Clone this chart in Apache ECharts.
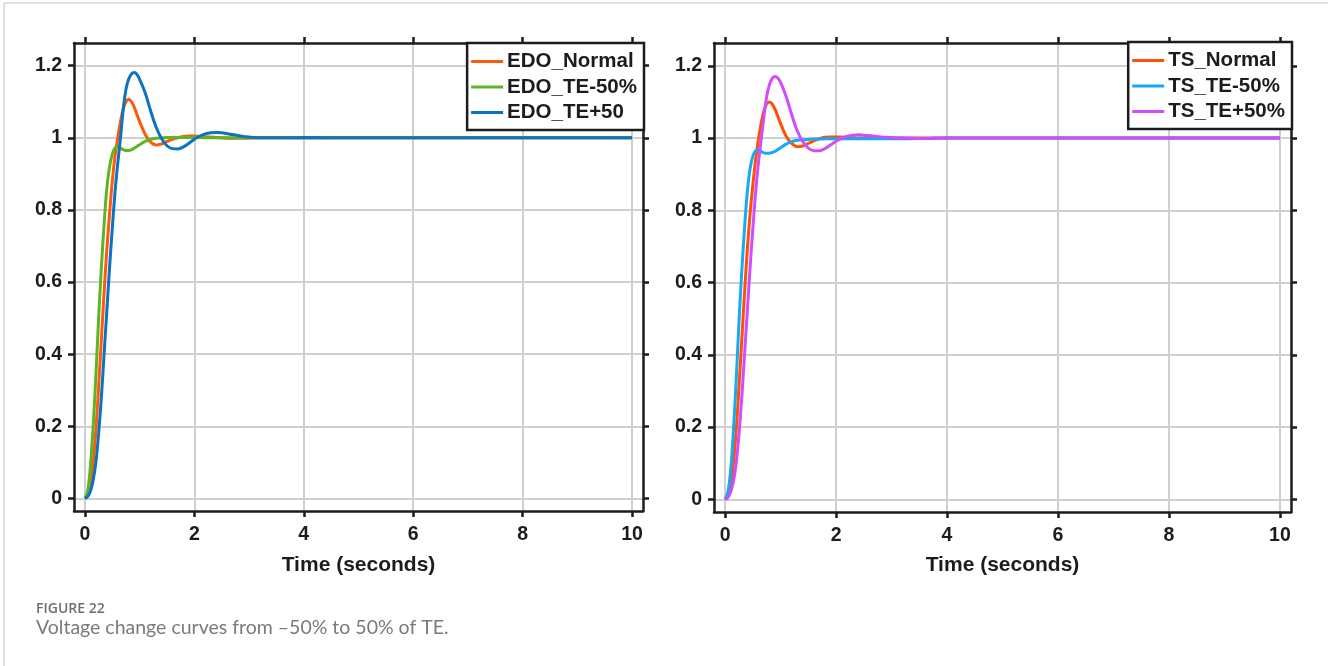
<!DOCTYPE html>
<html>
<head>
<meta charset="utf-8">
<script src="https://cdn.jsdelivr.net/npm/echarts@6/dist/echarts.min.js"></script>
<style>
html,body{margin:0;padding:0;background:#fff;}
#chart{width:1328px;height:666px;}
</style>
</head>
<body>
<div id="chart"></div>
<script>
// ---- data ----
const time = [0, 0.05, 0.1, 0.15, 0.2, 0.25, 0.3, 0.35, 0.4, 0.45, 0.5, 0.55, 0.6, 0.65, 0.7, 0.75, 0.8, 0.85, 0.9, 0.95, 1.0, 1.1, 1.2, 1.3, 1.4, 1.5, 1.6, 1.7, 1.8, 1.9, 2.0, 2.1, 2.2, 2.3, 2.4, 2.5, 2.7, 2.9, 3.2, 3.6, 4.0, 5, 6, 7, 8, 9, 10];

const edoNormal = [0, 0.01, 0.04, 0.10, 0.19, 0.31, 0.44, 0.57, 0.69, 0.79, 0.88, 0.95, 1.00, 1.045, 1.08, 1.10, 1.107, 1.10, 1.085, 1.065, 1.045, 1.01, 0.988, 0.98, 0.983, 0.99, 0.996, 1.0, 1.004, 1.005, 1.005, 1.004, 1.003, 1.002, 1.001, 1.0, 0.999, 0.999, 1.0, 1.0, 1.0, 1.0, 1.0, 1.0, 1.0, 1.0, 1.0];
const edoTEminus = [0, 0.02, 0.09, 0.20, 0.34, 0.50, 0.64, 0.76, 0.86, 0.92, 0.955, 0.972, 0.976, 0.972, 0.967, 0.965, 0.965, 0.967, 0.971, 0.976, 0.981, 0.99, 0.996, 0.999, 1.0, 1.001, 1.001, 1.001, 1.001, 1.001, 1.001, 1.001, 1.0, 1.0, 1.0, 1.0, 1.0, 1.0, 1.0, 1.0, 1.0, 1.0, 1.0, 1.0, 1.0, 1.0, 1.0];
const edoTEplus = [0, 0.005, 0.02, 0.05, 0.10, 0.18, 0.28, 0.40, 0.52, 0.64, 0.75, 0.85, 0.93, 1.0, 1.08, 1.135, 1.163, 1.177, 1.181, 1.176, 1.162, 1.125, 1.075, 1.03, 0.998, 0.978, 0.97, 0.969, 0.975, 0.985, 0.996, 1.005, 1.011, 1.014, 1.015, 1.014, 1.009, 1.004, 1.0, 1.0, 1.001, 1.0, 1.0, 1.0, 1.0, 1.0, 1.0];

const tsNormal = [0, 0.01, 0.04, 0.10, 0.19, 0.31, 0.44, 0.57, 0.69, 0.79, 0.87, 0.94, 0.995, 1.04, 1.075, 1.095, 1.10, 1.094, 1.08, 1.06, 1.04, 1.005, 0.985, 0.976, 0.978, 0.985, 0.992, 0.998, 1.002, 1.003, 1.003, 1.003, 1.002, 1.001, 1.0, 1.0, 1.0, 1.0, 1.0, 1.0, 1.0, 1.0, 1.0, 1.0, 1.0, 1.0, 1.0];
const tsTEminus = [0, 0.02, 0.08, 0.19, 0.33, 0.49, 0.63, 0.75, 0.85, 0.915, 0.95, 0.965, 0.967, 0.963, 0.959, 0.958, 0.958, 0.96, 0.963, 0.968, 0.973, 0.983, 0.99, 0.994, 0.995, 0.996, 0.997, 0.997, 0.998, 0.998, 0.998, 0.998, 0.998, 0.998, 0.998, 0.998, 0.998, 0.998, 0.998, 0.999, 1.0, 1.0, 1.0, 1.0, 1.0, 1.0, 1.0];
const tsTEplus = [0, 0.005, 0.02, 0.05, 0.10, 0.18, 0.28, 0.40, 0.52, 0.64, 0.75, 0.85, 0.93, 0.995, 1.06, 1.115, 1.148, 1.165, 1.17, 1.166, 1.154, 1.115, 1.065, 1.02, 0.99, 0.972, 0.965, 0.965, 0.971, 0.981, 0.991, 0.999, 1.005, 1.008, 1.009, 1.008, 1.005, 1.002, 1.0, 0.999, 1.0, 1.0, 1.0, 1.0, 1.0, 1.0, 1.0];

const xTicks = [0, 2, 4, 6, 8, 10];
const yTicks = [0, 0.2, 0.4, 0.6, 0.8, 1, 1.2];
const namesLeft = ['EDO_Normal', 'EDO_TE-50%', 'EDO_TE+50'];
const namesRight = ['TS_Normal', 'TS_TE-50%', 'TS_TE+50%'];
const xName = 'Time (seconds)';
const figLabel = 'FIGURE 22';
const figCaption = 'Voltage change curves from \u201350% to 50% of TE.';

// ---- styling ----
const FONT = '"Liberation Sans", Arial, sans-serif';
const INK = '#1c1c1c';
const colorsLeft = ['#ff5a0a', '#5cb522', '#0b72c4'];
const colorsRight = ['#ff5005', '#17a9f5', '#cf4cff'];

function pairs(xs, ys) { return xs.map((x, i) => [x, ys[i]]); }

function xAxes(gridIndex, gap) {
  const common = {
    type: 'value', gridIndex, min: -0.2, max: 10.2,
    axisLine: { show: true, onZero: false, lineStyle: { color: INK, width: 2.5 } },
    axisTick: { show: true, inside: false, length: 6, customValues: xTicks, lineStyle: { color: INK, width: 2.5 } },
  };
  return [
    Object.assign({}, common, {
      position: 'bottom',
      name: xName, nameLocation: 'middle', nameGap: gap,
      nameTextStyle: { color: INK, fontFamily: FONT, fontWeight: 'bold', fontSize: 21 },
      axisLabel: { show: true, customValues: xTicks, margin: 14, color: INK, fontFamily: FONT, fontWeight: 'bold', fontSize: 19.5 },
      splitLine: { show: true, lineStyle: { color: '#cfcfcf', width: 2 } }
    }),
    Object.assign({}, common, {
      position: 'top',
      axisLabel: { show: false },
      splitLine: { show: false }
    })
  ];
}
function yAxes(gridIndex) {
  const common = {
    type: 'value', gridIndex, min: -0.035, max: 1.263,
    axisLine: { show: true, onZero: false, lineStyle: { color: INK, width: 2.5 } },
    axisTick: { show: true, inside: false, length: 6, customValues: yTicks, lineStyle: { color: INK, width: 2.5 } },
  };
  return [
    Object.assign({}, common, {
      position: 'left',
      axisLabel: { show: true, customValues: yTicks, margin: 12, color: INK, fontFamily: FONT, fontWeight: 'bold', fontSize: 19.5 },
      splitLine: { show: true, lineStyle: { color: '#cfcfcf', width: 2 } }
    }),
    Object.assign({}, common, {
      position: 'right',
      axisLabel: { show: false },
      splitLine: { show: false }
    })
  ];
}

function lineSeries(name, data, color, xi, yi) {
  return {
    type: 'line', name, data, xAxisIndex: xi, yAxisIndex: yi,
    showSymbol: false, smooth: 0.35, clip: true,
    lineStyle: { color, width: 3 }, itemStyle: { color },
    emphasis: { disabled: true }, animation: false
  };
}

function legendBox(names, right, top) {
  return {
    data: names, orient: 'vertical', right, top,
    icon: 'rect', itemWidth: 32, itemHeight: 3, itemGap: 4.5,
    padding: [8, 7, 7, 4],
    backgroundColor: '#ffffff', borderColor: INK, borderWidth: 2.5, borderRadius: 0,
    textStyle: { color: INK, fontFamily: FONT, fontWeight: 'bold', fontSize: 20.5, padding: [0, 0, 0, -1] },
    selectedMode: false
  };
}

const chart = echarts.init(document.getElementById('chart'), null, { renderer: 'canvas' });
chart.setOption({
  backgroundColor: '#ffffff',
  animation: false,
  grid: [
    { left: 74, top: 43, width: 569, height: 468 },
    { left: 714, top: 43, width: 577, height: 469 }
  ],
  xAxis: [].concat(xAxes(0, 44), xAxes(1, 43)),
  yAxis: [].concat(yAxes(0), yAxes(1)),
  legend: [legendBox(namesLeft, 684, 43), legendBox(namesRight, 36, 42)],
  series: [
    lineSeries(namesLeft[0], pairs(time, edoNormal), colorsLeft[0], 0, 0),
    lineSeries(namesLeft[1], pairs(time, edoTEminus), colorsLeft[1], 0, 0),
    lineSeries(namesLeft[2], pairs(time, edoTEplus), colorsLeft[2], 0, 0),
    lineSeries(namesRight[0], pairs(time, tsNormal), colorsRight[0], 2, 2),
    lineSeries(namesRight[1], pairs(time, tsTEminus), colorsRight[1], 2, 2),
    lineSeries(namesRight[2], pairs(time, tsTEplus), colorsRight[2], 2, 2)
  ],
  graphic: [
    { type: 'line', silent: true, shape: { x1: 4, y1: 3, x2: 1328, y2: 3 }, style: { stroke: '#d6d6d6', lineWidth: 1.5 } },
    { type: 'line', silent: true, shape: { x1: 4, y1: 3, x2: 4, y2: 666 }, style: { stroke: '#d6d6d6', lineWidth: 1.5 } },
    { type: 'text', silent: true, x: 36, y: 609, style: { text: figLabel, fill: '#6e6e6e', fontFamily: '"Open Sans", Lato, sans-serif', fontWeight: 600, fontSize: 14, verticalAlign: 'middle' } },
    { type: 'text', silent: true, x: 36, y: 628, style: { text: figCaption, fill: '#7a7a7a', fontFamily: 'Lato, "Open Sans", sans-serif', fontWeight: 400, fontSize: 19.5, verticalAlign: 'middle' } }
  ]
});
</script>
</body>
</html>
